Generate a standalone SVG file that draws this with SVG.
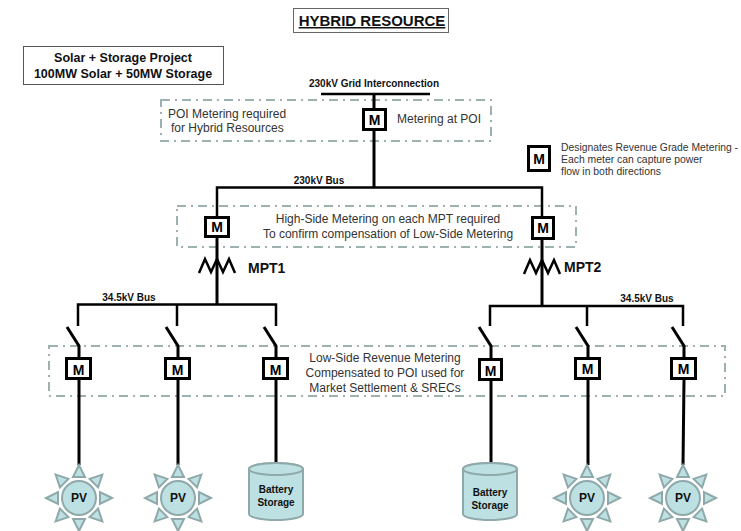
<svg xmlns="http://www.w3.org/2000/svg" xmlns:xlink="http://www.w3.org/1999/xlink" width="741" height="531" viewBox="0 0 741 531">
<style>
.bg{fill:#ffffff}
.wire{stroke:#000;stroke-width:3;fill:none}
.bus{stroke:#000;stroke-width:2.5;fill:none}
.zone{fill:none;stroke:#9db1b1;stroke-width:2;stroke-dasharray:9,5,2,5}
.meter{fill:#fff;stroke:#000;stroke-width:3}
.mtxt{font-family:"Liberation Sans",Arial,sans-serif;font-weight:bold;font-size:14px;fill:#000;text-anchor:middle}
.note{font-family:"Liberation Sans",Arial,sans-serif;font-size:12px;fill:#333}
.lbl{font-family:"Liberation Sans",Arial,sans-serif;font-weight:bold;font-size:10px;fill:#111}
.big{font-family:"Liberation Sans",Arial,sans-serif;font-weight:bold;font-size:14px;fill:#111}
.dev{fill:#bde0e2;stroke:#8fa9aa;stroke-width:2}
.devt{font-family:"Liberation Sans",Arial,sans-serif;font-weight:bold;font-size:12px;fill:#111;text-anchor:middle}
.devs{font-family:"Liberation Sans",Arial,sans-serif;font-weight:bold;font-size:10px;fill:#111;text-anchor:middle}
.leg{font-family:"Liberation Sans",Arial,sans-serif;font-size:10.4px;fill:#333}
</style>
<defs>
<polygon id="ray" points="0,-33 -6,-21 6,-21" class="dev"/>
<g id="sun">
<use xlink:href="#ray"/>
<use xlink:href="#ray" transform="rotate(45)"/>
<use xlink:href="#ray" transform="rotate(90)"/>
<use xlink:href="#ray" transform="rotate(135)"/>
<use xlink:href="#ray" transform="rotate(180)"/>
<use xlink:href="#ray" transform="rotate(225)"/>
<use xlink:href="#ray" transform="rotate(270)"/>
<use xlink:href="#ray" transform="rotate(315)"/>
<circle r="17" class="dev"/>
</g>
<g id="batt">
<path d="M-27,6 a27,6 0 0 1 54,0 v45 a27,6 0 0 1 -54,0 z" class="dev"/>
<ellipse cx="0" cy="6" rx="27" ry="6" class="dev"/>
</g>
<path id="mpt" d="M-18,15 L-12,1 L-6,14 L0,1 L6,14 L12,1 L18,15" fill="none" stroke="#000" stroke-width="2.5"/>
</defs>
<rect class="bg" width="741" height="531"/>

<g id="title">
<rect x="293.5" y="8.5" width="155" height="24" fill="#fff" stroke="#666" stroke-width="1"/>
<text x="372" y="26" font-family="Liberation Sans,Arial,sans-serif" font-weight="bold" font-size="15" text-anchor="middle" text-decoration="underline" fill="#111">HYBRID RESOURCE</text>
</g>

<g id="project">
<rect x="23.5" y="46.5" width="200" height="38" fill="#fff" stroke="#555" stroke-width="1"/>
<text x="123" y="62" font-family="Liberation Sans,Arial,sans-serif" font-weight="bold" font-size="12.5" text-anchor="middle" fill="#111">Solar + Storage Project</text>
<text x="123" y="78" font-family="Liberation Sans,Arial,sans-serif" font-weight="bold" font-size="12.5" text-anchor="middle" fill="#111">100MW Solar + 50MW Storage</text>
</g>

<g id="zones">
<rect class="zone" x="161" y="100" width="330" height="41"/>
<rect class="zone" x="177" y="206" width="399" height="41"/>
<rect class="zone" x="49" y="346" width="676" height="50"/>
</g>

<g id="connectors">
<line class="bus" x1="321" y1="94" x2="430" y2="94" stroke-width="3.5"/>
<line class="wire" x1="374" y1="94" x2="374" y2="188"/>
<polyline class="bus" points="217,216 217,187.5 542,187.5 542,216"/>
<line class="wire" x1="217" y1="238" x2="217" y2="305"/>
<line class="wire" x1="542" y1="239" x2="542" y2="306"/>
<polyline class="bus" points="78,326 78,304.5 276,304.5 276,326"/>
<line class="bus" x1="177" y1="304.5" x2="177" y2="326"/>
<polyline class="bus" points="490,326 490,306 683,306 683,326"/>
<line class="bus" x1="587" y1="306" x2="587" y2="326"/>
<g class="wire" stroke-width="2.5">
<polyline points="67,327 79,346 79,358"/>
<polyline points="166,327 178,346 178,358"/>
<polyline points="264,327 276,346 276,358"/>
<polyline points="479,327 491,346 491,358"/>
<polyline points="576,327 588,346 588,358"/>
<polyline points="672,327 684,346 684,358"/>
</g>
<line class="wire" x1="79" y1="380" x2="79" y2="465"/>
<line class="wire" x1="178" y1="380" x2="178" y2="465"/>
<line class="wire" x1="276" y1="380" x2="276" y2="463"/>
<line class="wire" x1="491" y1="380" x2="491" y2="463"/>
<line class="wire" x1="588" y1="380" x2="588" y2="465"/>
<line class="wire" x1="684" y1="380" x2="683" y2="465"/>
<use xlink:href="#mpt" x="217" y="258"/>
<use xlink:href="#mpt" x="542" y="259"/>
</g>

<g id="labels">
<text class="lbl" x="374" y="87" text-anchor="middle" font-size="9.5">230kV Grid Interconnection</text>
<text class="lbl" x="319" y="184" text-anchor="middle">230kV Bus</text>
<text class="lbl" x="129" y="301" text-anchor="middle">34.5kV Bus</text>
<text class="lbl" x="647" y="302" text-anchor="middle">34.5kV Bus</text>
<text class="big" x="248" y="273">MPT1</text>
<text class="big" x="564" y="272">MPT2</text>
<text class="note" x="168" y="118" font-size="12.5">POI Metering required</text>
<text class="note" x="171" y="132" font-size="12.5">for Hybrid Resources</text>
<text class="note" x="397" y="123" font-size="12.5">Metering at POI</text>
<text class="note" x="388" y="223" text-anchor="middle" font-size="12.3">High-Side Metering on each MPT required</text>
<text class="note" x="388" y="238" text-anchor="middle" font-size="12.3">To confirm compensation of Low-Side Metering</text>
<text class="note" x="385" y="362" text-anchor="middle">Low-Side Revenue Metering</text>
<text class="note" x="385" y="377" text-anchor="middle">Compensated to POI used for</text>
<text class="note" x="385" y="392" text-anchor="middle">Market Settlement &amp; SRECs</text>
</g>

<g id="legend">
<rect class="meter" x="528.5" y="146.5" width="21" height="24"/>
<text class="mtxt" x="539" y="164">M</text>
<text class="leg" x="561" y="151" textLength="177" lengthAdjust="spacingAndGlyphs">Designates Revenue Grade Metering -</text>
<text class="leg" x="561" y="163">Each meter can capture power</text>
<text class="leg" x="561" y="175">flow in both directions</text>
</g>

<g id="meter-poi"><rect class="meter" x="363.5" y="109.5" width="22" height="20"/><text class="mtxt" x="374.5" y="125">M</text></g>
<g id="meter-mpt1"><rect class="meter" x="205.5" y="217.5" width="23" height="19"/><text class="mtxt" x="217" y="232">M</text></g>
<g id="meter-mpt2"><rect class="meter" x="532.5" y="217.5" width="21" height="21"/><text class="mtxt" x="543" y="233">M</text></g>
<g id="meter-1"><rect class="meter" x="66.5" y="358.5" width="24" height="20"/><text class="mtxt" x="78.5" y="375">M</text></g>
<g id="meter-2"><rect class="meter" x="165.5" y="358.5" width="24" height="20"/><text class="mtxt" x="177.5" y="375">M</text></g>
<g id="meter-3"><rect class="meter" x="263.5" y="358.5" width="24" height="20"/><text class="mtxt" x="275.5" y="375">M</text></g>
<g id="meter-4"><rect class="meter" x="479.5" y="359.5" width="22" height="20"/><text class="mtxt" x="490.5" y="376">M</text></g>
<g id="meter-5"><rect class="meter" x="575.5" y="358.5" width="24" height="20"/><text class="mtxt" x="587.5" y="374">M</text></g>
<g id="meter-6"><rect class="meter" x="671.5" y="358.5" width="24" height="20"/><text class="mtxt" x="683.5" y="374">M</text></g>

<g id="pv-1"><use xlink:href="#sun" x="79" y="498"/><text class="devt" x="79" y="502">PV</text></g>
<g id="pv-2"><use xlink:href="#sun" x="178" y="498"/><text class="devt" x="178" y="502">PV</text></g>
<g id="battery-1"><use xlink:href="#batt" x="276" y="463"/><text class="devs" x="276" y="493">Battery</text><text class="devs" x="276" y="506">Storage</text></g>
<g id="battery-2"><use xlink:href="#batt" x="490" y="463"/><text class="devs" x="490" y="496">Battery</text><text class="devs" x="490" y="509">Storage</text></g>
<g id="pv-3"><use xlink:href="#sun" x="587" y="498"/><text class="devt" x="587" y="502">PV</text></g>
<g id="pv-4"><use xlink:href="#sun" x="683" y="498"/><text class="devt" x="683" y="502">PV</text></g>
</svg>
